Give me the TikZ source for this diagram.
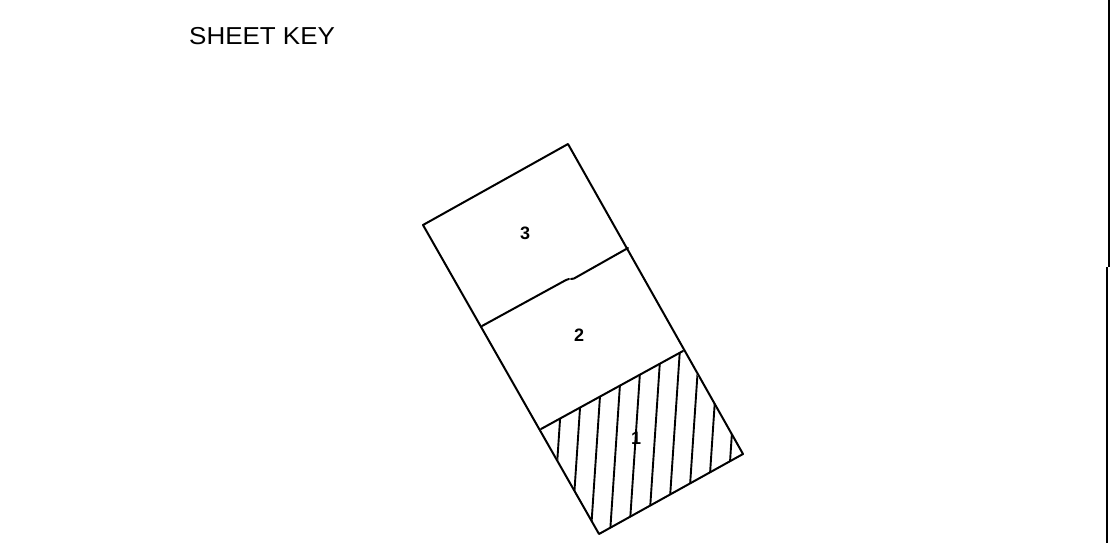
\documentclass[tikz,border=0pt]{standalone}
\usepackage{fontspec}
\setmainfont{Liberation Sans}
\begin{document}
\begin{tikzpicture}[x=1pt,y=-1pt,
  edge/.style={line width=2pt,line cap=round,line join=round},
  hatchline/.style={line width=1.9pt},
  titletext/.style={inner sep=0pt,anchor=base west,font=\fontsize{24.5}{28}\selectfont,xscale=1.06},
  sheetno/.style={inner sep=0pt,anchor=base,font=\bfseries\fontsize{18}{22}\selectfont}]
\useasboundingbox (0,0) rectangle (1118,543);
% title
\node[titletext] (title) at (189,45) {SHEET KEY};
% corners
\coordinate (TL) at (423,225);
\coordinate (TR) at (568,144);
\coordinate (BR) at (743,454);
\coordinate (BL) at (599,534);
\coordinate (ML1) at (482,326);
\coordinate (MR1) at (628,248);
\coordinate (ML2) at (541,429);
\coordinate (MR2) at (683,351);
% hatching of sheet 1
\begin{scope}
  \clip (ML2) -- (MR2) -- (BR) -- (BL) -- cycle;
  \foreach \k in {0,...,9}{
    \draw[hatchline] ({560+19.2*\k+6.7},320) -- ({560+19.2*\k-15.4},650);
  }
\end{scope}
% outline
\draw[edge] (TL) -- (TR) -- (BR) -- (BL) -- cycle;
\draw[edge] (ML2) -- (MR2);
\draw[edge] (ML1) -- (566,280) -- (569,279);
\draw[edge] (571,279) -- (574,278.5) -- (MR1);
% labels
\node[sheetno] (s3) at (525,239.5) {3};
\node[sheetno] (s2) at (579,341.5) {2};
\node[sheetno] (s1) at (636,444.5) {1};
% right border
\coordinate (RB0) at (1109,0);
\coordinate (RB1) at (1109,267);
\coordinate (RB2) at (1107,267);
\coordinate (RB3) at (1107,543);
\draw[line width=2.4pt] (RB0) -- (RB1);
\draw[line width=2.4pt] (RB2) -- (RB3);
\end{tikzpicture}
\end{document}
